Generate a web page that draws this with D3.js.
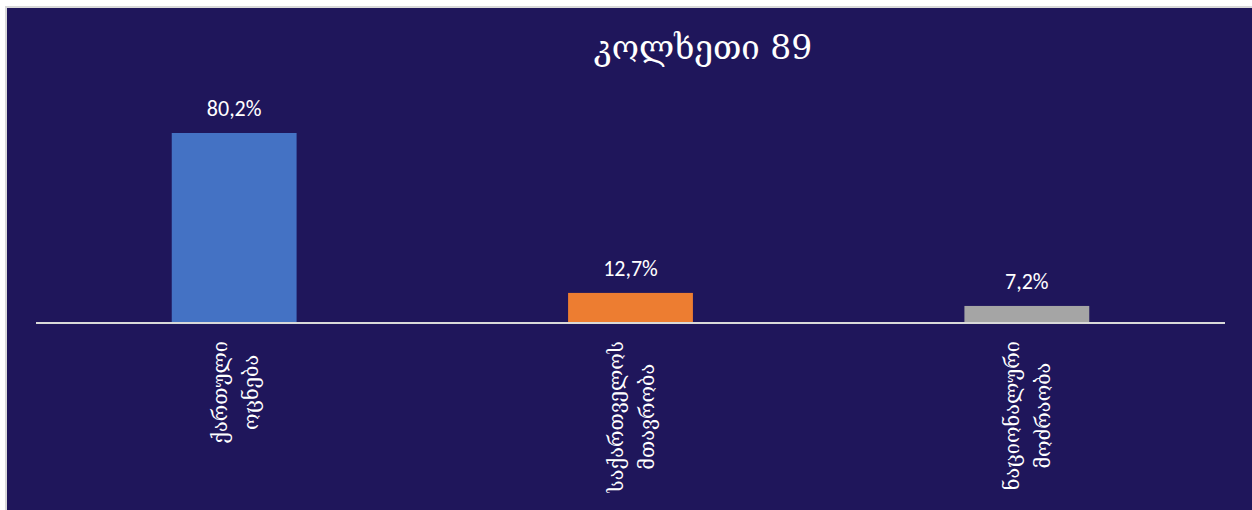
<!DOCTYPE html>
<html><head><meta charset="utf-8">
<script src="https://cdn.jsdelivr.net/npm/d3@7"></script>
<style>
html,body{margin:0;padding:0;background:#fff;overflow:hidden;}
svg{display:block;}
</style></head>
<body>
<svg id="chart" width="1252" height="510"></svg>
<script>
const categories = [["ქართული","ოცნება"],["საქართველოს","მთავრობა"],["ნაციონალური","მოძრაობა"]];
const values = [80.2, 12.7, 7.2];
const valueLabels = ["80,2%","12,7%","7,2%"];
const colors = ["#4472c4","#ed7d31","#a5a5a5"];
const title = "კოლხეთი 89";

const W = 1252, H = 510;
const svg = d3.select("#chart");
const bg = "#1f165b";
svg.append("rect").attr("x",6).attr("y",7).attr("width",W).attr("height",H)
  .attr("fill",bg).attr("stroke","#d9d9d9").attr("stroke-width",2);

const x = d3.scaleBand().domain(d3.range(values.length)).range([36,1225]).paddingInner(0.685).paddingOuter(0.3425);
const y = d3.scaleLinear().domain([0,80.2]).range([323,133]);

svg.append("text").attr("x",703).attr("y",59).attr("text-anchor","middle")
  .attr("fill","#fff").attr("font-family","'DejaVu Serif','DejaVu Sans'").attr("font-size",33).text(title);

svg.selectAll("rect.bar").data(values).join("rect").attr("class","bar")
  .attr("x",(d,i)=>x(i)).attr("width",x.bandwidth())
  .attr("y",d=>y(d)).attr("height",d=>y(0)-y(d))
  .attr("fill",(d,i)=>colors[i]);

svg.selectAll("text.val").data(values).join("text").attr("class","val")
  .attr("x",(d,i)=>x(i)+x.bandwidth()/2).attr("y",d=>y(d)-17)
  .attr("text-anchor","middle").attr("fill","#fff")
  .attr("font-family","Carlito,'Open Sans',sans-serif").attr("font-size",22)
  .text((d,i)=>valueLabels[i]);

svg.append("line").attr("x1",36).attr("x2",1225).attr("y1",y(0)).attr("y2",y(0))
  .attr("stroke","#d9d9d9").attr("stroke-width",2);

const lineGap = 31;
categories.forEach((lines,i)=>{
  const cx = x(i)+x.bandwidth()/2;
  const g = svg.append("g");
  const texts = lines.map((t,j)=>g.append("text")
    .attr("fill","#fff").attr("font-family","'DejaVu Serif','DejaVu Sans'").attr("font-size",20)
    .attr("text-anchor","middle").text(t));
  const maxLen = d3.max(texts, t=>t.node().getComputedTextLength());
  const top = 341;
  const cy = top + maxLen/2;
  texts.forEach((t,j)=>{
    const colX = cx + (j-(lines.length-1)/2)*lineGap + 8;
    t.attr("transform",`translate(${colX},${cy}) rotate(-90)`);
  });
});
</script>
</body></html>
